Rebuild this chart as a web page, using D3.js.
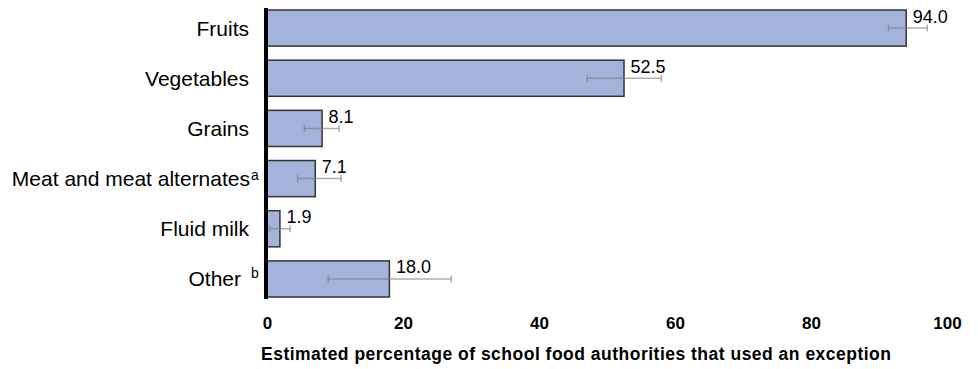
<!DOCTYPE html>
<html><head><meta charset="utf-8">
<script src="https://cdn.jsdelivr.net/npm/d3@7"></script>
<style>body{margin:0;background:#fff;} svg{display:block;font-family:Arial,"Liberation Sans",sans-serif;}</style>
</head><body>
<svg id="chart" width="978" height="369"></svg>
<script>
const categories = ["Fruits","Vegetables","Grains","Meat and meat alternates","Fluid milk","Other"];
const superscripts = ["","","","a","","b"];
const values = [94.0, 52.5, 8.1, 7.1, 1.9, 18.0];
const errLow = [91.4, 47.1, 5.5, 4.5, 0.4, 9.0];
const errHigh = [97.1, 58.0, 10.6, 10.9, 3.4, 27.1];
const xTicks = [0,20,40,60,80,100];
const axisTitle = "Estimated percentage of school food authorities that used an exception";

const svg = d3.select("#chart");
const x = d3.scaleLinear().domain([0,100]).range([267,947]);
const y = d3.scaleBand().domain(categories).range([10,297]).paddingInner(0.28).paddingOuter(0);
const data = categories.map((c,i)=>({c, v:values[i], lo:errLow[i], hi:errHigh[i], sup:superscripts[i]}));

// bars
svg.append("g").selectAll("rect").data(data).join("rect")
  .attr("x", x(0)).attr("y", d=>y(d.c))
  .attr("width", d=>x(d.v)-x(0)).attr("height", y.bandwidth())
  .attr("fill","#a4b3dc").attr("stroke","#333").attr("stroke-width",1.5);

// error bars
const eg = svg.append("g").attr("stroke","#7a7a7a").attr("stroke-opacity",0.6).attr("stroke-width",1.5);
data.forEach(d=>{
  const cy = y(d.c)+y.bandwidth()/2;
  eg.append("line").attr("x1",x(d.lo)).attr("x2",x(d.hi)).attr("y1",cy).attr("y2",cy);
  eg.append("line").attr("x1",x(d.lo)).attr("x2",x(d.lo)).attr("y1",cy-3.5).attr("y2",cy+3.5);
  eg.append("line").attr("x1",x(d.hi)).attr("x2",x(d.hi)).attr("y1",cy-3.5).attr("y2",cy+3.5);
});

// value labels
svg.append("g").selectAll("text").data(data).join("text")
  .attr("x", d=>x(d.v)+6.5).attr("y", d=>y(d.c)+12.5)
  .attr("font-size",18).attr("fill","#000")
  .text(d=>d.v.toFixed(1));

// y axis line
svg.append("line").attr("x1",266).attr("x2",266).attr("y1",y.range()[0]-2).attr("y2",y.range()[1]+2)
  .attr("stroke","#000").attr("stroke-width",4);

// category labels
svg.append("g").selectAll("text").data(data).join("text")
  .attr("x", d=> d.sup==="a" ? 250 : d.sup==="b" ? 241 : 249)
  .attr("y", d=>y(d.c)+y.bandwidth()/2+7.5)
  .attr("text-anchor","end").attr("font-size",21).attr("fill","#000")
  .text(d=>d.c);
svg.append("g").selectAll("text").data(data.filter(d=>d.sup)).join("text")
  .attr("x", 251)
  .attr("y", d=>y(d.c)+y.bandwidth()/2 + (d.sup==="a"?1:-1))
  .attr("font-size",14).attr("fill","#000")
  .text(d=>d.sup);

// x axis
const xAxis = d3.axisBottom(x).tickValues(xTicks).tickSize(0).tickPadding(0).tickFormat(d3.format("d"));
const gx = svg.append("g").attr("transform","translate(0,317)").call(xAxis);
gx.select(".domain").remove();
gx.selectAll("text").attr("font-size",17).attr("font-weight","bold").attr("fill","#000")
  .attr("font-family","Arial, 'Liberation Sans', sans-serif").attr("dy","0.71em");

svg.append("text").attr("x",261).attr("y",360).attr("font-size",17.5).attr("font-weight","bold")
  .attr("fill","#000").attr("textLength",630).attr("lengthAdjust","spacing").text(axisTitle);
</script>
</body></html>
